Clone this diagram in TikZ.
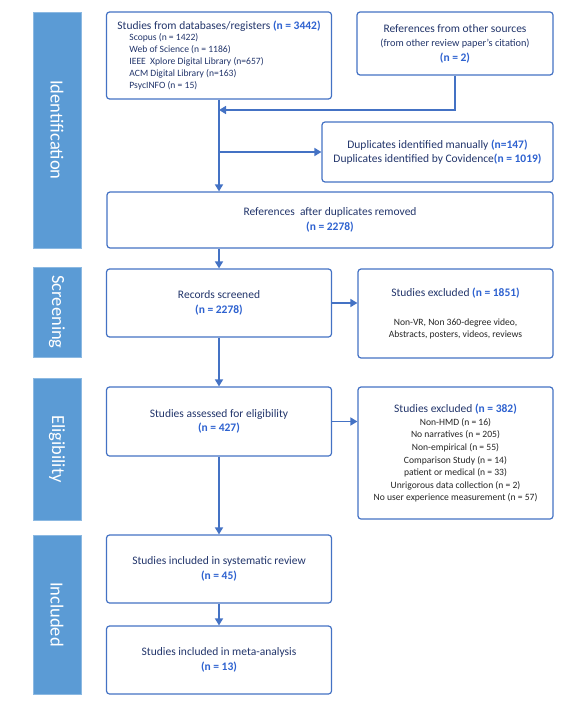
\documentclass[tikz,border=0pt]{standalone}
\usepackage{fontspec}
\setmainfont{Carlito}
\usetikzlibrary{arrows.meta}

\definecolor{boxblue}{HTML}{4472C4}
\definecolor{phaseblue}{HTML}{5B9BD5}
\definecolor{navytext}{HTML}{22356B}
\definecolor{numblue}{HTML}{2E62D0}
\definecolor{darktext}{HTML}{262626}

\newcommand{\nval}[1]{\textcolor{numblue}{\textbf{#1}}}
\newcommand{\dbfont}{\fontsize{9.6}{11.5}\selectfont\hspace*{12pt}}
\newcommand{\exfont}{\fontsize{9.6}{12}\selectfont\color{darktext}}

\tikzset{
  box/.style={draw=boxblue, line width=1.2pt, rounded corners=3pt, fill=white,
    align=center, text=navytext, inner sep=2pt, font=\fontsize{11.5}{14.5}\selectfont},
  phase/.style={fill=phaseblue, draw=phaseblue!70!white, line width=0.6pt, text=white,
    rotate=-90, minimum height=48, font=\fontsize{18.5}{20}\selectfont},
  flow/.style={->, draw=boxblue, line width=1.6pt}
}

\begin{document}
\begin{tikzpicture}[x=1pt, y=-1pt, >={Triangle[length=7pt,width=8pt]}]
  \useasboundingbox (0,0) rectangle (581,706);

  % Phase bars (left)
  \node[phase, minimum width=236] (pid) at (57,130) {Identification};
  \node[phase, minimum width=90] (psc) at (57,312) {Screening};
  \node[phase, minimum width=142] (pel) at (57,449) {Eligibility};
  \node[phase, minimum width=159] (pin) at (57,614.5) {Included};

  % Identification
  \node[box, minimum width=225, minimum height=87, align=left] (db) at (219,55.5)
    {Studies from databases/registers \nval{(n = 3442)}\\[-3.5pt]
     \dbfont Scopus (n = 1422)\\[-2.5pt]
     \dbfont Web of Science (n = 1186)\\[-2.5pt]
     \dbfont IEEE\ \ Xplore Digital Library (n=657)\\[-2.5pt]
     \dbfont ACM Digital Library (n=163)\\[-2.5pt]
     \dbfont PsycINFO (n = 15)};
  \node[box, minimum width=196, minimum height=63] (other) at (455,43.5)
    {References from other sources\\
     \fontsize{10.3}{14}\selectfont (from other review paper’s citation)\\
     \nval{(n = 2)}};
  \node[box, minimum width=231, minimum height=60] (dup) at (437.5,152)
    {Duplicates identified manually \nval{(n=147)}\\
     Duplicates identified by Covidence\nval{(n = 1019)}};
  \node[box, minimum width=446, minimum height=56] (refs) at (330,220)
    {References\ \ after duplicates removed\\ \nval{(n = 2278)}};

  % Screening
  \node[box, minimum width=225, minimum height=68] (screen) at (219,303)
    {Records screened\\ \nval{(n = 2278)}};
  \node[box, minimum width=195, minimum height=89] (excl1) at (455.5,313.5)
    {Studies excluded \nval{(n = 1851)}\\[15pt]
     \exfont Non-VR, Non 360-degree video,\\[-2.5pt]
     \exfont Abstracts, posters, videos, reviews};

  % Eligibility
  \node[box, minimum width=225, minimum height=69] (elig) at (219,421.5)
    {Studies assessed for eligibility\\ \nval{(n = 427)}};
  \node[box, minimum width=195, minimum height=132] (excl2) at (455.5,453)
    {Studies excluded \nval{(n = 382)}\\[-1.5pt]
     \exfont Non-HMD (n = 16)\\[-2pt]
     \exfont No narratives (n = 205)\\[-2pt]
     \exfont Non-empirical (n = 55)\\[-2pt]
     \exfont Comparison Study (n = 14)\\[-2pt]
     \exfont patient or medical (n = 33)\\[-2pt]
     \exfont Unrigorous data collection (n = 2)\\[-2pt]
     \exfont No user experience measurement (n = 57)};

  % Included
  \node[box, minimum width=225, minimum height=68] (incl) at (219,569)
    {Studies included in systematic review\\ \nval{(n = 45)}};
  \node[box, minimum width=225, minimum height=68] (meta) at (219,660)
    {Studies included in meta-analysis\\ \nval{(n = 13)}};

  % Connectors
  \coordinate (merge) at (db.south |- 0,110);
  \coordinate (split) at (db.south |- dup.west);
  \draw[flow] (db.south) -- (refs.north -| db.south);
  \draw[flow] (other.south) |- (merge);
  \draw[flow] (split) -- (dup.west);
  \draw[flow] (refs.south -| screen.north) -- (screen.north);
  \draw[flow] (screen.east) -- (excl1.west |- screen.east);
  \draw[flow] (screen.south) -- (elig.north);
  \draw[flow] (elig.east) -- (excl2.west |- elig.east);
  \draw[flow] (elig.south) -- (incl.north);
  \draw[flow] (incl.south) -- (meta.north);
\end{tikzpicture}
\end{document}
